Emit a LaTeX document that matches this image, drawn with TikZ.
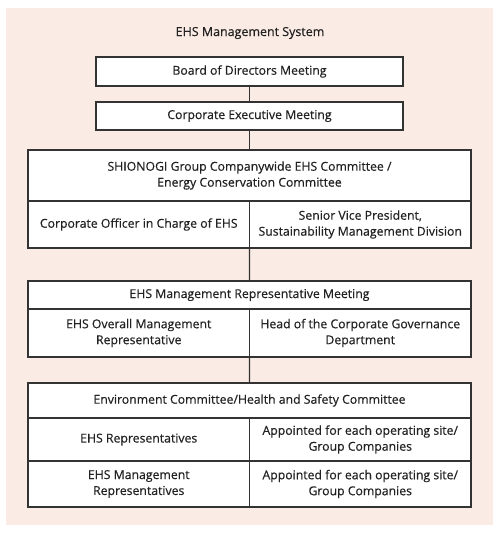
\documentclass[tikz,border=0pt]{standalone}
\usepackage{fontspec}
\setmainfont{Open Sans}
\newfontfamily\boxfont[FakeBold=0.4]{Open Sans}
\usetikzlibrary{positioning}
\definecolor{bgpink}{HTML}{FAEBE4}
\definecolor{linegray}{HTML}{333333}
\definecolor{textgray}{HTML}{222222}
\tikzset{
  box/.style={draw=linegray, fill=white, line width=1.1bp, inner sep=0pt, outer sep=0pt,
    align=center, text=textgray, font=\boxfont\fontsize{12.3}{16}\selectfont},
  wide/.style={box, minimum width=443bp},
  half/.style={box, minimum width=221.5bp},
  link/.style={draw=linegray, line width=1.3bp}
}

\begin{document}
\begin{tikzpicture}[x=1bp, y=-1bp, node distance=0pt]
  \useasboundingbox (0,0) rectangle (500,534);
  \fill[bgpink] (6,8) rectangle (493,525);

  \node [text=textgray, font=\boxfont\fontsize{12.5}{14}\selectfont] (title) at (250,33) {EHS Management System};

  \node [box, minimum width=307bp, minimum height=29bp] (board) at (249.5,71.5) {Board of Directors Meeting};
  \node [box, minimum width=307bp, minimum height=28bp] (exec) at (249.5,116) {Corporate Executive Meeting};

  % companywide committee
  \node [wide, minimum height=51bp] (ehscom) at (249.5,175.5) {SHIONOGI Group Companywide EHS Committee /\\Energy Conservation Committee};
  \node [half, minimum height=47bp, below right=of ehscom.south west] (officer) {Corporate Officer in Charge of EHS};
  \node [half, minimum height=47bp, right=of officer] (svp) {Senior Vice President,\\Sustainability Management Division};

  % representative meeting
  \node [wide, minimum height=28bp] (repmeet) at (249.5,295) {EHS Management Representative Meeting};
  \node [half, minimum height=48bp, below right=of repmeet.south west] (overall) {EHS Overall Management\\Representative};
  \node [half, minimum height=48bp, right=of overall] (govhead) {Head of the Corporate Governance\\Department};

  % site committees
  \node [wide, minimum height=35bp] (envcom) at (249.5,400.5) {Environment Committee/Health and Safety Committee};
  \node [half, minimum height=43bp, below right=of envcom.south west] (ehsrep) {EHS Representatives};
  \node [half, minimum height=43bp, right=of ehsrep] (siteA) {Appointed for each operating site/\\Group Companies};
  \node [half, minimum height=46bp, below=of ehsrep] (mgmtrep) {EHS Management\\Representatives};
  \node [half, minimum height=46bp, right=of mgmtrep] (siteB) {Appointed for each operating site/\\Group Companies};

  \draw [link] (board) -- (exec);
  \draw [link] (exec) -- (ehscom);
  \draw [link] (officer.south east) -- (repmeet.north);
  \draw [link] (overall.south east) -- (envcom.north);
\end{tikzpicture}
\end{document}
